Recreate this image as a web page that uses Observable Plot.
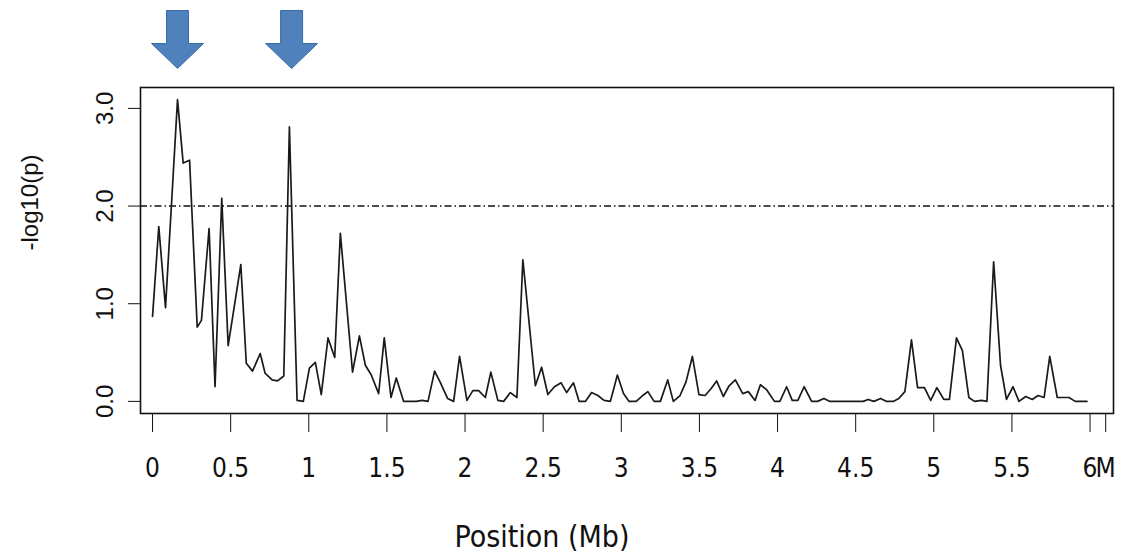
<!DOCTYPE html>
<html>
<head>
<meta charset="utf-8">
<script src="https://cdn.jsdelivr.net/npm/d3@7"></script>
<script src="https://cdn.jsdelivr.net/npm/@observablehq/plot@0.6"></script>
<style>
  html, body { margin: 0; padding: 0; background: #fff; }
  svg { display: block; }
</style>
</head>
<body>
<div id="chart"></div>
<script>
// Positions (Mb) and -log10(p) values
const positions = [
  0.00, 0.04, 0.083, 0.16, 0.196, 0.237, 0.286, 0.313, 0.362, 0.40,
  0.443, 0.484, 0.565, 0.60, 0.64, 0.689, 0.72, 0.765, 0.80, 0.84,
  0.876, 0.925, 0.965, 1.004, 1.042, 1.08, 1.123, 1.166, 1.202, 1.28,
  1.324, 1.362, 1.40, 1.447, 1.483, 1.526, 1.56, 1.607, 1.648, 1.688,
  1.724, 1.763, 1.805, 1.84, 1.888, 1.927, 1.965, 2.012, 2.05, 2.087,
  2.13, 2.165, 2.21, 2.247, 2.29, 2.332, 2.37, 2.45, 2.49, 2.53,
  2.572, 2.615, 2.65, 2.694, 2.73, 2.77, 2.81, 2.85, 2.89, 2.93,
  2.975, 3.014, 3.05, 3.095, 3.137, 3.17, 3.21, 3.25, 3.297, 3.333,
  3.376, 3.414, 3.455, 3.497, 3.536, 3.574, 3.61, 3.653, 3.69, 3.73,
  3.777, 3.813, 3.856, 3.89, 3.93, 3.98, 4.015, 4.058, 4.094, 4.13,
  4.17, 4.218, 4.256, 4.297, 4.335, 4.375, 4.42, 4.46, 4.50, 4.548,
  4.58, 4.616, 4.66, 4.697, 4.74, 4.776, 4.815, 4.857, 4.896, 4.94,
  4.98, 5.02, 5.064, 5.10, 5.145, 5.183, 5.224, 5.26, 5.305, 5.34,
  5.383, 5.427, 5.465, 5.507, 5.545, 5.588, 5.63, 5.668, 5.706, 5.742,
  5.79, 5.826, 5.865, 5.905, 5.94, 5.98
];
const logP = [
  0.87, 1.79, 0.96, 3.09, 2.44, 2.47, 0.76, 0.83, 1.77, 0.15,
  2.08, 0.57, 1.40, 0.39, 0.31, 0.49, 0.29, 0.22, 0.21, 0.26,
  2.81, 0.01, 0.00, 0.34, 0.40, 0.07, 0.65, 0.45, 1.72, 0.30,
  0.67, 0.37, 0.27, 0.08, 0.65, 0.04, 0.24, 0.00, 0.00, 0.00,
  0.01, 0.00, 0.31, 0.20, 0.03, 0.00, 0.46, 0.01, 0.11, 0.11,
  0.04, 0.30, 0.01, 0.00, 0.09, 0.04, 1.45, 0.16, 0.35, 0.07,
  0.15, 0.19, 0.09, 0.19, 0.00, 0.00, 0.09, 0.06, 0.01, 0.00,
  0.27, 0.08, 0.00, 0.00, 0.06, 0.10, 0.00, 0.00, 0.22, 0.00,
  0.06, 0.20, 0.46, 0.07, 0.06, 0.13, 0.21, 0.05, 0.16, 0.22,
  0.08, 0.10, 0.01, 0.17, 0.12, 0.00, 0.00, 0.15, 0.01, 0.01,
  0.15, 0.00, 0.00, 0.03, 0.00, 0.00, 0.00, 0.00, 0.00, 0.00,
  0.02, 0.00, 0.03, 0.00, 0.00, 0.03, 0.10, 0.63, 0.14, 0.14,
  0.01, 0.14, 0.02, 0.02, 0.65, 0.52, 0.04, 0.00, 0.01, 0.00,
  1.43, 0.37, 0.02, 0.15, 0.00, 0.05, 0.02, 0.06, 0.04, 0.46,
  0.04, 0.04, 0.04, 0.00, 0.00, 0.00
];
const threshold = [2];
const arrowPositions = [0.16, 0.89];
const xTicks = [0, 0.5, 1, 1.5, 2, 2.5, 3, 3.5, 4, 4.5, 5, 5.5, 6, 6.1];
const xTickLabels = ["0", "0.5", "1", "1.5", "2", "2.5", "3", "3.5", "4", "4.5", "5", "5.5", "6", "M"];
const yTicks = [0, 1, 2, 3];
const yTickLabels = ["0.0", "1.0", "2.0", "3.0"];
const xTitle = "Position (Mb)";
const yTitle = "-log10(p)";

const data = positions.map((p, i) => ({pos: p, v: logP[i]}));

const arrowSymbol = {
  draw(ctx) {
    ctx.moveTo(-11, -29);
    ctx.lineTo(11, -29);
    ctx.lineTo(11, 4);
    ctx.lineTo(26, 4);
    ctx.lineTo(0, 29);
    ctx.lineTo(-26, 4);
    ctx.lineTo(-11, 4);
    ctx.closePath();
  }
};

const narrow = "'Liberation Sans Narrow', 'DejaVu Sans Condensed', 'Liberation Sans', Arial, sans-serif";

const chart = Plot.plot({
  width: 1130,
  height: 554,
  marginLeft: 140,
  marginRight: 17,
  marginTop: 87,
  marginBottom: 141,
  style: {fontFamily: "'Liberation Sans', Arial, sans-serif", color: "#111", background: "#fff"},
  x: {domain: [-0.077, 6.15]},
  y: {domain: [-0.124, 3.214]},
  marks: [
    Plot.ruleY(threshold, {stroke: "#111", strokeWidth: 1.4, strokeDasharray: "7,3,1.5,3"}),
    Plot.line(data, {x: "pos", y: "v", stroke: "#1a1a1a", strokeWidth: 1.7}),
    Plot.frame({stroke: "#111", strokeWidth: 1.6}),
    Plot.axisX({
      ticks: xTicks,
      tickFormat: (d) => xTickLabels[xTicks.indexOf(d)],
      tickSize: 19,
      tickPadding: 26,
      fontSize: 26,
      fontFamily: narrow,
      label: null
    }),
    Plot.axisY({
      ticks: yTicks,
      tickFormat: (d) => yTickLabels[yTicks.indexOf(d)],
      tickSize: 12,
      tickPadding: 16,
      tickRotate: -90,
      fontSize: 24,
      label: null
    }),
    Plot.text([yTitle], {frameAnchor: "left", dx: -110, rotate: -90, fontSize: 24, fill: "#111"}),
    Plot.text([xTitle], {frameAnchor: "bottom", dy: 133, dx: -85, fontSize: 30, fontFamily: narrow, fill: "#111"}),
    Plot.dot(arrowPositions, {x: (d) => d, frameAnchor: "top", dy: -48, symbol: arrowSymbol, fill: "#4F81BD", stroke: "#3C6AA6", strokeWidth: 1})
  ]
});

document.getElementById("chart").appendChild(chart);
</script>
</body>
</html>
